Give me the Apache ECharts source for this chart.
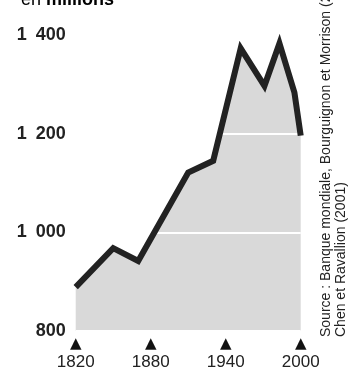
<!DOCTYPE html>
<html>
<head>
<meta charset="utf-8">
<script src="https://cdn.jsdelivr.net/npm/echarts@6/dist/echarts.min.js"></script>
<style>
  html, body { margin: 0; padding: 0; background: #fff; }
  #chart { width: 350px; height: 373px; }
</style>
</head>
<body>
<div id="chart"></div>
<script>
// Population living in extreme poverty, in millions
const years = [1820, 1850, 1870, 1910, 1930, 1952, 1971, 1983, 1995, 2000];
const poor = [889, 968, 942, 1121, 1145, 1373, 1297, 1383, 1283, 1196];
const yTicks = [800, 1000, 1200, 1400];
const xTicks = [1820, 1880, 1940, 2000];
const unitLabel = ['en ', 'millions'];
const sourceLines = ['Source : Banque mondiale, Bourguignon et Morrison (2001)', 'Chen et Ravallion (2001)'];

const points = years.map((y, i) => [y, poor[i]]);
// thousands separated by an en space
const fmtThousands = v => String(v).replace(/\B(?=(\d{3})+(?!\d))/g, '\u2002');

const chart = echarts.init(document.getElementById('chart'), null, { renderer: 'canvas' });
chart.setOption({
  animation: false,
  backgroundColor: '#ffffff',
  grid: { left: 75.7, right: 49.3, top: 35, bottom: 42, containLabel: false },
  xAxis: {
    type: 'value',
    min: xTicks[0], max: xTicks[xTicks.length - 1], interval: 60,
    axisLine: { show: false }, axisTick: { show: false }, splitLine: { show: false },
    axisLabel: {
      margin: 6,
      formatter: v => xTicks.includes(v) ? '{t|▲}\n{v|' + v + '}' : '',
      rich: {
        t: { fontFamily: 'DejaVu Sans', fontSize: 15, color: '#111', lineHeight: 15, align: 'center' },
        v: { fontFamily: 'Liberation Sans, Arial, sans-serif', fontSize: 17, color: '#222', lineHeight: 20, align: 'center' }
      }
    }
  },
  yAxis: {
    type: 'value',
    min: yTicks[0], max: yTicks[yTicks.length - 1], interval: 200,
    z: 2,
    axisLine: { show: false }, axisTick: { show: false },
    splitLine: { show: true, lineStyle: { color: '#ffffff', width: 2 } },
    axisLabel: {
      margin: 10,
      fontFamily: 'Liberation Sans, Arial, sans-serif', fontWeight: 'bold', fontSize: 18, color: '#222',
      formatter: v => fmtThousands(v)
    }
  },
  series: [
    {
      // grey fill beneath the curve
      type: 'line', data: points, z: 1, symbol: 'none',
      lineStyle: { width: 0, opacity: 0 },
      areaStyle: { color: '#d9d9d9', opacity: 1, origin: 'start' }
    },
    {
      type: 'line', data: points, z: 3, symbol: 'none',
      lineStyle: { color: '#222222', width: 6, join: 'miter' }
    }
  ],
  graphic: [
    {
      type: 'text', left: 21, top: -9, z: 10,
      style: {
        text: '{n|' + unitLabel[0] + '}{b|' + unitLabel[1] + '}',
        rich: {
          n: { fontFamily: 'Liberation Sans, Arial, sans-serif', fontSize: 18, color: '#222' },
          b: { fontFamily: 'Liberation Sans, Arial, sans-serif', fontSize: 18, fontWeight: 'bold', color: '#222' }
        }
      }
    },
    {
      type: 'text', x: 318, y: 337, rotation: Math.PI / 2, z: 10,
      style: {
        text: sourceLines.join('\n'),
        fontFamily: 'Liberation Sans, Arial, sans-serif', fontSize: 14, lineHeight: 15.5,
        fill: '#222', align: 'left', verticalAlign: 'top'
      }
    }
  ]
});
</script>
</body>
</html>
